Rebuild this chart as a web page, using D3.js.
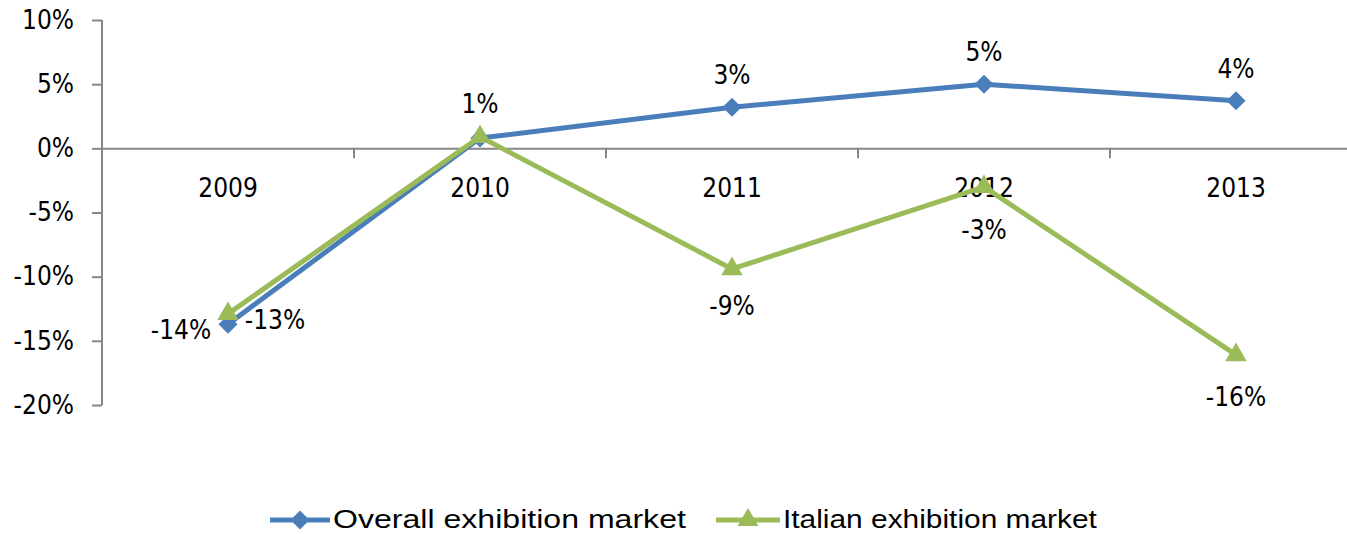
<!DOCTYPE html>
<html><head><meta charset="utf-8">
<script src="https://cdn.jsdelivr.net/npm/d3@7"></script>
<style>body{margin:0;background:#fff}svg{display:block}</style>
</head><body><svg id="c" width="1347" height="534"></svg>
<script>
const years = ["2009","2010","2011","2012","2013"];
const overall = [-13.7, 0.8, 3.2, 5.0, 3.7];
const italian = [-12.9, 0.9, -9.4, -3.0, -16.1];
const overallLabels = ["-14%","1%","3%","5%","4%"];
const italianLabels = ["-13%","1%","-9%","-3%","-16%"];
const yTicks = [10, 5, 0, -5, -10, -15, -20];
const seriesNames = ["Overall exhibition market","Italian exhibition market"];

const svg = d3.select("#c");
const font = "'DejaVu Sans Condensed', 'DejaVu Sans', sans-serif";
const fs = 26;
const x = d3.scaleBand().domain(years).range([102, 1362]);
const y = d3.scaleLinear().domain([-20, 10]).range([405, 20]);
const cx = d => x(d) + x.bandwidth()/2;
const axisColor = "#868686";

// y axis
const ya = svg.append("g").attr("transform","translate(102,0)")
  .call(d3.axisLeft(y).tickValues(yTicks).tickSize(10).tickPadding(18).tickFormat(d => d + "%"));
ya.select(".domain").attr("stroke", axisColor).attr("stroke-width", 2).attr("d","M0,20V405");
ya.selectAll(".tick line").attr("stroke", axisColor).attr("stroke-width", 2);
ya.selectAll(".tick text").attr("font-family", font).attr("font-stretch","condensed").attr("font-size", fs).attr("fill","#000");

// x axis at 0
const xa = svg.append("g").attr("transform", `translate(0,${y(0)})`)
  .call(d3.axisBottom(x).tickSize(0).tickPadding(30));
xa.select(".domain").attr("stroke", axisColor).attr("stroke-width", 2);
xa.selectAll(".tick text").attr("font-family", font).attr("font-stretch","condensed").attr("font-size", fs).attr("fill","#000");
// boundary tick marks
const edges = years.slice(1).map(d => x(d));
svg.append("g").selectAll("line").data(edges).join("line")
  .attr("x1", d => d).attr("x2", d => d).attr("y1", y(0)).attr("y2", y(0)+10)
  .attr("stroke", axisColor).attr("stroke-width", 2);

const line = d3.line().x((d,i) => cx(years[i])).y(d => y(d));
const blue = "#4a7ebb", green = "#9bbb59";
const diamond = d3.symbol().type(d3.symbolSquare).size(180);

function drawSeries(vals, color, symPath, rot) {
  svg.append("path").datum(vals).attr("d", line).attr("fill","none")
    .attr("stroke", color).attr("stroke-width", 5).attr("stroke-linejoin","round");
  svg.append("g").selectAll("path").data(vals).join("path")
    .attr("d", symPath)
    .attr("transform", (d,i) => `translate(${cx(years[i])},${y(d)}) rotate(${rot})`)
    .attr("fill", color);
}
drawSeries(overall, blue, diamond, 45);
drawSeries(italian, green, d3.symbol().type(d3.symbolTriangle).size(200), 0);

// data labels
const ovOff = [[-47, 15], [0, -25], [0, -23], [0, -23], [0, -23]];
const itOff = [[47, 15], [0, -26], [0, 46], [0, 52], [0, 51]];
const labelGroup = svg.append("g").attr("font-family", font).attr("font-stretch","condensed")
  .attr("font-size", fs).attr("text-anchor","middle");
overall.forEach((d,i) => {
  labelGroup.append("text").attr("x", cx(years[i]) + ovOff[i][0]).attr("y", y(d) + ovOff[i][1])
    .text(overallLabels[i]);
});
italian.forEach((d,i) => {
  if (i === 1) return; // coincides with overall label
  labelGroup.append("text").attr("x", cx(years[i]) + itOff[i][0]).attr("y", y(d) + itOff[i][1])
    .text(italianLabels[i]);
});

// legend
const leg = [
  {name: seriesNames[0], color: blue, sym: diamond, rot: 45, x0: 270, x1: 330, tx: 333, tw: 353},
  {name: seriesNames[1], color: green, sym: d3.symbol().type(d3.symbolTriangle).size(190), rot: 0, x0: 716, x1: 780, tx: 783, tw: 314}
];
const ly = 520;
leg.forEach(l => {
  svg.append("line").attr("x1", l.x0).attr("x2", l.x1).attr("y1", ly).attr("y2", ly)
    .attr("stroke", l.color).attr("stroke-width", 5);
  svg.append("path").attr("d", l.sym)
    .attr("transform", `translate(${(l.x0+l.x1)/2},${ly}) rotate(${l.rot})`).attr("fill", l.color);
  const g = svg.append("g").attr("transform", `translate(${l.tx},${ly + 8})`);
  const t = g.append("text").attr("font-family", "'Liberation Sans Narrow', 'Liberation Sans', sans-serif")
    .attr("font-size", 25).text(l.name);
  const w = t.node().getComputedTextLength();
  t.attr("transform", `scale(${l.tw / w},1)`);
});
</script></body></html>
